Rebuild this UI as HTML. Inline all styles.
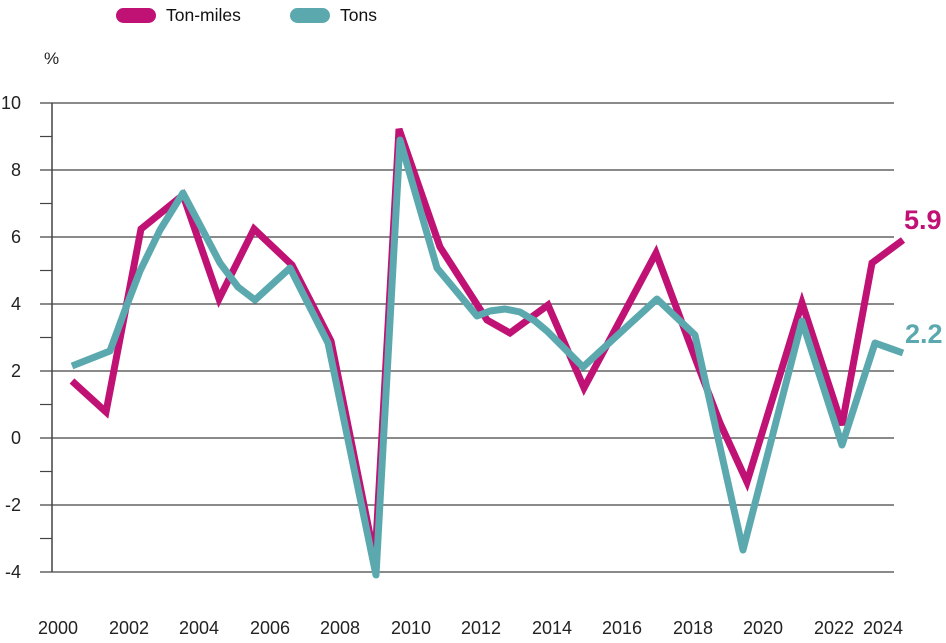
<!DOCTYPE html>
<html><head><meta charset="utf-8"><style>
body{margin:0;background:#fff;}
svg{display:block;font-family:"Liberation Sans",sans-serif;}
</style></head><body>
<svg width="946" height="643" viewBox="0 0 946 643">
<rect x="116" y="8" width="40" height="15" rx="7.5" fill="#c01174"/>
<text x="166" y="21" font-size="17.5" fill="#111">Ton-miles</text>
<rect x="290" y="8" width="40" height="15" rx="7.5" fill="#5ba9ae"/>
<text x="340" y="21" font-size="17.5" fill="#111">Tons</text>
<text x="44" y="64" font-size="17" fill="#222">%</text>
<g stroke="#444" stroke-width="1.2">
<line x1="40" y1="103" x2="894" y2="103"/><line x1="40" y1="170" x2="894" y2="170"/>
<line x1="40" y1="237" x2="894" y2="237"/><line x1="40" y1="304" x2="894" y2="304"/>
<line x1="40" y1="371" x2="894" y2="371"/><line x1="40" y1="438" x2="894" y2="438"/>
<line x1="40" y1="505" x2="894" y2="505"/><line x1="40" y1="572" x2="894" y2="572"/>
<line x1="40" y1="136.5" x2="52" y2="136.5"/><line x1="40" y1="203.5" x2="52" y2="203.5"/>
<line x1="40" y1="270.5" x2="52" y2="270.5"/><line x1="40" y1="337.5" x2="52" y2="337.5"/>
<line x1="40" y1="404.5" x2="52" y2="404.5"/><line x1="40" y1="471.5" x2="52" y2="471.5"/>
<line x1="40" y1="538.5" x2="52" y2="538.5"/>
<line x1="52" y1="103" x2="52" y2="572" stroke-width="1.5"/>
</g>
<g font-size="18" fill="#222" text-anchor="end">
<text x="21" y="109">10</text><text x="21" y="176">8</text><text x="21" y="243">6</text>
<text x="21" y="310">4</text><text x="21" y="377">2</text><text x="21" y="444">0</text>
<text x="21" y="511">-2</text><text x="21" y="578">-4</text>
</g>
<g font-size="18" fill="#222" text-anchor="middle">
<text x="58" y="634">2000</text><text x="129" y="634">2002</text><text x="199" y="634">2004</text>
<text x="270" y="634">2006</text><text x="340" y="634">2008</text><text x="411" y="634">2010</text>
<text x="481" y="634">2012</text><text x="552" y="634">2014</text><text x="622" y="634">2016</text>
<text x="693" y="634">2018</text><text x="763" y="634">2020</text><text x="834" y="634">2022</text>
<text x="883" y="634">2024</text>
</g>
<polyline fill="none" stroke="#c01174" stroke-width="7" stroke-linejoin="miter" points="72,381 106,412 141,229 183,195 219,299 254,229 292,265 331,341 375,560 399,129 440,247 487,320 510,333 548,305 584,388 656,253 697,363 720,423 747,482 802,303 842,425 872,263 903,240"/>
<polyline fill="none" stroke="#5ba9ae" stroke-width="7" stroke-linejoin="round" points="72,366 110,351 125,310 140,271 160,230 183,193 200,225 220,263 238,287 255,300 290,268 328,343 376,575 400,140 437,268 477,316 490,311 505,309 520,312 535,321 547,331 583,367 657,299 695,335 743,550 802,321 842,445 875,343 903,353"/>
<text x="904" y="229" font-size="27" font-weight="bold" fill="#c01174">5.9</text>
<text x="905" y="343" font-size="27" font-weight="bold" fill="#5ba9ae">2.2</text>
</svg>
</body></html>
